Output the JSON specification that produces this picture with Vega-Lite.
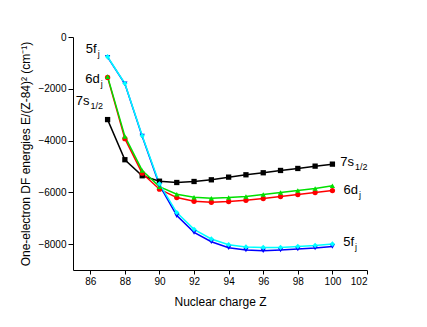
{
  "$schema": "https://vega.github.io/schema/vega-lite/v6.json",
  "width": 294,
  "height": 233,
  "autosize": "none",
  "padding": {"left": 73, "top": 37, "right": 60, "bottom": 57},
  "background": "white",
  "config": {
    "view": {"stroke": null},
    "font": "Liberation Sans",
    "axis": {"grid": false, "domainColor": "black", "tickColor": "black", "labelColor": "black", "titleColor": "black", "labelFontSize": 10, "titleFontSize": 12, "titleFontWeight": "normal"}
  },
  "datasets": {
    "pts": [
      {"Z": 87, "E": -3190, "s": "7s"}, {"Z": 88, "E": -4740, "s": "7s"}, {"Z": 89, "E": -5360, "s": "7s"}, {"Z": 90, "E": -5570, "s": "7s"}, {"Z": 91, "E": -5620, "s": "7s"}, {"Z": 92, "E": -5581, "s": "7s"}, {"Z": 93, "E": -5516, "s": "7s"}, {"Z": 94, "E": -5413, "s": "7s"}, {"Z": 95, "E": -5322, "s": "7s"}, {"Z": 96, "E": -5244, "s": "7s"}, {"Z": 97, "E": -5155, "s": "7s"}, {"Z": 98, "E": -5078, "s": "7s"}, {"Z": 99, "E": -4988, "s": "7s"}, {"Z": 100, "E": -4911, "s": "7s"},
      {"Z": 87, "E": -1560, "s": "6d-"}, {"Z": 88, "E": -3926, "s": "6d-"}, {"Z": 89, "E": -5260, "s": "6d-"}, {"Z": 90, "E": -5880, "s": "6d-"}, {"Z": 91, "E": -6202, "s": "6d-"}, {"Z": 92, "E": -6344, "s": "6d-"}, {"Z": 93, "E": -6383, "s": "6d-"}, {"Z": 94, "E": -6357, "s": "6d-"}, {"Z": 95, "E": -6310, "s": "6d-"}, {"Z": 96, "E": -6240, "s": "6d-"}, {"Z": 97, "E": -6163, "s": "6d-"}, {"Z": 98, "E": -6085, "s": "6d-"}, {"Z": 99, "E": -6008, "s": "6d-"}, {"Z": 100, "E": -5930, "s": "6d-"},
      {"Z": 87, "E": -1530, "s": "6d+"}, {"Z": 88, "E": -3837, "s": "6d+"}, {"Z": 89, "E": -5155, "s": "6d+"}, {"Z": 90, "E": -5780, "s": "6d+"}, {"Z": 91, "E": -6072, "s": "6d+"}, {"Z": 92, "E": -6189, "s": "6d+"}, {"Z": 93, "E": -6228, "s": "6d+"}, {"Z": 94, "E": -6202, "s": "6d+"}, {"Z": 95, "E": -6160, "s": "6d+"}, {"Z": 96, "E": -6085, "s": "6d+"}, {"Z": 97, "E": -6008, "s": "6d+"}, {"Z": 98, "E": -5930, "s": "6d+"}, {"Z": 99, "E": -5853, "s": "6d+"}, {"Z": 100, "E": -5748, "s": "6d+"},
      {"Z": 87, "E": -780, "s": "5f-"}, {"Z": 88, "E": -1810, "s": "5f-"}, {"Z": 89, "E": -3830, "s": "5f-"}, {"Z": 90, "E": -5720, "s": "5f-"}, {"Z": 91, "E": -6899, "s": "5f-"}, {"Z": 92, "E": -7546, "s": "5f-"}, {"Z": 93, "E": -7907, "s": "5f-"}, {"Z": 94, "E": -8140, "s": "5f-"}, {"Z": 95, "E": -8228, "s": "5f-"}, {"Z": 96, "E": -8256, "s": "5f-"}, {"Z": 97, "E": -8230, "s": "5f-"}, {"Z": 98, "E": -8192, "s": "5f-"}, {"Z": 99, "E": -8153, "s": "5f-"}, {"Z": 100, "E": -8088, "s": "5f-"},
      {"Z": 87, "E": -763, "s": "5f+"}, {"Z": 88, "E": -1795, "s": "5f+"}, {"Z": 89, "E": -3810, "s": "5f+"}, {"Z": 90, "E": -5670, "s": "5f+"}, {"Z": 91, "E": -6783, "s": "5f+"}, {"Z": 92, "E": -7430, "s": "5f+"}, {"Z": 93, "E": -7802, "s": "5f+"}, {"Z": 94, "E": -8023, "s": "5f+"}, {"Z": 95, "E": -8110, "s": "5f+"}, {"Z": 96, "E": -8127, "s": "5f+"}, {"Z": 97, "E": -8127, "s": "5f+"}, {"Z": 98, "E": -8088, "s": "5f+"}, {"Z": 99, "E": -8050, "s": "5f+"}, {"Z": 100, "E": -7996, "s": "5f+"}
    ],
    "labels": [
      {"Z": 86.37, "E": -620, "t": "5f", "sub": "j"},
      {"Z": 86.54, "E": -1783, "t": "6d", "sub": "j"},
      {"Z": 85.96, "E": -2636, "t": "7s", "sub": "1/2"},
      {"Z": 101.25, "E": -5000, "t": "7s", "sub": "1/2"},
      {"Z": 101.48, "E": -6047, "t": "6d", "sub": "j"},
      {"Z": 101.25, "E": -8062, "t": "5f", "sub": "j"}
    ]
  },
  "layer": [
    {
      "data": {"name": "pts"},
      "mark": {"type": "line", "strokeWidth": 1.5},
      "encoding": {
        "x": {"field": "Z", "type": "quantitative", "scale": {"domain": [85, 102], "nice": false, "zero": false},
          "axis": {"title": "Nuclear charge Z", "tickCount": 9, "format": "d", "tickSize": 4, "labelPadding": 2, "titlePadding": 10}},
        "y": {"field": "E", "type": "quantitative", "scale": {"domain": [-9000, 0], "nice": false},
          "axis": {"title": "One-electron DF energies E/(Z-84)² (cm⁻¹)", "tickCount": 5, "format": "d", "tickSize": 5, "labelPadding": 2, "titlePadding": 5}},
        "color": {"field": "s", "type": "nominal", "scale": {"domain": ["7s", "6d-", "6d+", "5f-", "5f+"], "range": ["#000000", "#ff0000", "#00e000", "#0000ff", "#00ffff"]}, "legend": null},
        "detail": {"field": "s"}
      }
    },
    {
      "data": {"name": "pts"},
      "mark": {"type": "point", "filled": true, "opacity": 1, "size": 28},
      "encoding": {
        "x": {"field": "Z", "type": "quantitative"},
        "y": {"field": "E", "type": "quantitative"},
        "color": {"field": "s", "type": "nominal", "legend": null},
        "shape": {"field": "s", "type": "nominal", "scale": {"domain": ["7s", "6d-", "6d+", "5f-", "5f+"], "range": ["square", "circle", "triangle-up", "triangle-down", "diamond"]}, "legend": null}
      }
    },
    {
      "data": {"name": "labels"},
      "mark": {"type": "text", "align": "right", "baseline": "alphabetic", "fontSize": 13, "font": "Liberation Sans", "color": "black"},
      "encoding": {
        "x": {"field": "Z", "type": "quantitative"},
        "y": {"field": "E", "type": "quantitative"},
        "text": {"field": "t"}
      }
    },
    {
      "data": {"name": "labels"},
      "mark": {"type": "text", "align": "left", "baseline": "alphabetic", "fontSize": 9, "dx": 1, "dy": 4, "font": "Liberation Sans", "color": "black"},
      "encoding": {
        "x": {"field": "Z", "type": "quantitative"},
        "y": {"field": "E", "type": "quantitative"},
        "text": {"field": "sub"}
      }
    }
  ]
}
